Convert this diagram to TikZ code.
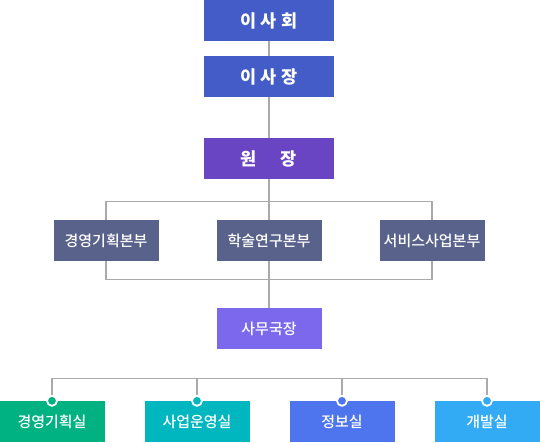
\documentclass[tikz,border=0pt]{standalone}
\usepackage{fontspec}
\setmainfont{Noto Sans CJK KR}
\newfontfamily\unitfont{Noto Sans CJK KR Medium}
\usetikzlibrary{positioning,backgrounds}
\definecolor{orgblue}{RGB}{67,92,200}
\definecolor{orgpurple}{RGB}{106,69,195}
\definecolor{orgslate}{RGB}{88,98,139}
\definecolor{orgviolet}{RGB}{124,104,236}
\definecolor{orggreen}{RGB}{0,178,129}
\definecolor{orgteal}{RGB}{0,183,191}
\definecolor{orgroyal}{RGB}{78,116,238}
\definecolor{orgsky}{RGB}{51,171,244}
\definecolor{orggray}{RGB}{170,170,170}
\tikzstyle{topbox} = [rectangle, minimum width=130pt, minimum height=41pt, text centered, fill=orgblue, text=white, font=\bfseries\fontsize{17.5}{17.5}\selectfont]
\tikzstyle{unitbox} = [rectangle, minimum width=105pt, minimum height=41pt, text centered, text=white, font=\unitfont\fontsize{15}{15}\selectfont]
\tikzstyle{line} = [color=orggray, line width=1.2pt]
\tikzstyle{dot} = [circle, draw=white, line width=1.8pt, minimum size=10pt, inner sep=0pt]

\begin{document}
\begin{tikzpicture}[x=1pt, y=-1pt, node distance=56pt]
\useasboundingbox (0,0) rectangle (540,442);
\node (isahoe) [topbox] at (269,20.5) {이 사 회};
\node (isajang) [topbox, below of=isahoe] {이 사 장};
\node (wonjang) [topbox, fill=orgpurple, below of=isajang, node distance=82pt] {원\hspace{24pt}장};
\node (bonbu2) [unitbox, fill=orgslate, below of=wonjang, node distance=82pt] {학술연구본부};
\node (bonbu1) [unitbox, fill=orgslate, left of=bonbu2, node distance=163pt] {경영기획본부};
\node (bonbu3) [unitbox, fill=orgslate, right of=bonbu2, node distance=163pt] {서비스사업본부};
\node (samu) [unitbox, fill=orgviolet, below of=bonbu2, node distance=88pt] {사무국장};
\node (sil2) [unitbox, fill=orgteal, below of=samu, node distance=93pt, xshift=-72pt] {사업운영실};
\node (sil1) [unitbox, fill=orggreen, left of=sil2, node distance=145pt] {경영기획실};
\node (sil3) [unitbox, fill=orgroyal, right of=sil2, node distance=145pt] {정보실};
\node (sil4) [unitbox, fill=orgsky, right of=sil3, node distance=145pt] {개발실};
\coordinate [below=22pt of wonjang.south] (frametop);
\coordinate [below=18pt of bonbu2.south] (framebot);
\coordinate [below=29pt of samu.south] (busbar);
\begin{pgfonlayer}{background}
\draw[line] (isahoe.center) -- (samu.center);
\draw[line] (bonbu1.center |- frametop) rectangle (bonbu3.center |- framebot);
\draw[line] (sil1.north |- busbar) -- (sil4.north |- busbar);
\foreach \s in {sil1,sil2,sil3,sil4}
  \draw[line] (\s.north |- busbar) -- (\s.north);
\end{pgfonlayer}
\foreach \s/\c in {sil1/orggreen,sil2/orgteal,sil3/orgroyal,sil4/orgsky}
  \node (\s dot) [dot, fill=\c] at (\s.north) {};
\end{tikzpicture}
\end{document}
